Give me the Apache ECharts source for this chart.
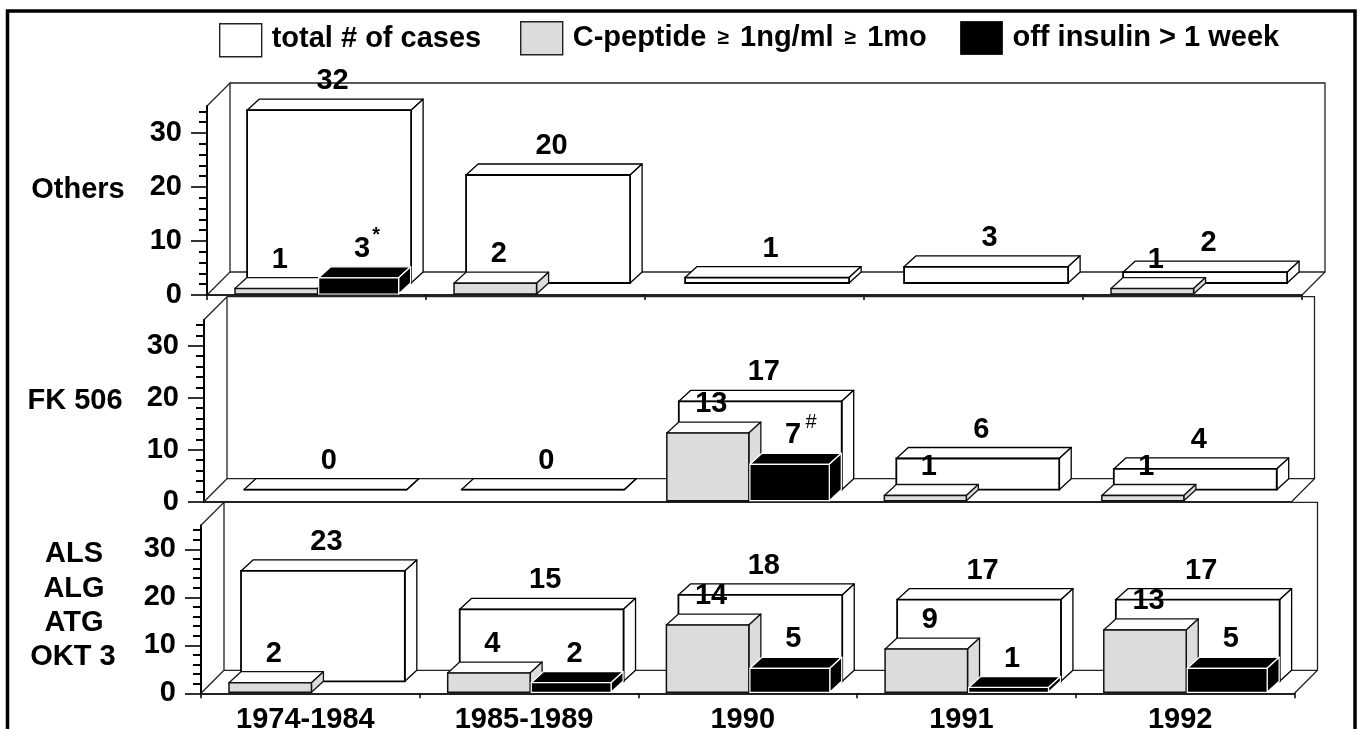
<!DOCTYPE html>
<html><head><meta charset="utf-8">
<script src="https://cdn.jsdelivr.net/npm/echarts@6/dist/echarts.min.js"></script>
<style>html,body{margin:0;padding:0;background:#fff}#c{width:1362px;height:729px}</style>
</head><body><div id="c"></div>
<script>
const categories = ['1974-1984','1985-1989','1990','1991','1992'];
const seriesNames = ['total # of cases','C-peptide ≥ 1ng/ml ≥ 1mo','off insulin > 1 week'];
const yMajor = [0,10,20,30];
const yMinor = [2,4,6,8,12,14,16,18,22,24,26,28,32,34];
const others_total = [32,20,1,3,2];
const others_cpep  = [1,2,null,null,1];
const others_off   = [3,null,null,null,null];
const fk_total = [0,0,17,6,4];
const fk_cpep  = [null,null,13,1,1];
const fk_off   = [null,null,7,null,null];
const als_total = [23,15,18,17,17];
const als_cpep  = [2,4,14,9,13];
const als_off   = [null,2,5,1,5];
const others_marks = {off:{0:'*'}};
const fk_marks = {off:{2:'#'}};
const rowLabels = [
  ['Others',78,190],['FK 506',75,401],
  ['ALS',74,554],['ALG',74,589],['ATG',74,623],['OKT 3',73,657]
];

const FONT = '"Liberation Sans", Arial, sans-serif';
const FS = 29;
const panels = [
  {left:207,width:1095,top:106,height:189,tick:true,vals:[others_total,others_cpep,others_off],marks:others_marks},
  {left:204,width:1087.5,top:319.7,height:182,tick:false,vals:[fk_total,fk_cpep,fk_off],marks:fk_marks},
  {left:201,width:1093.5,top:525.3,height:168,tick:true,vals:[als_total,als_cpep,als_off],marks:{}}
];
const WALL = 23, DX = 12, DY = 11;
const layouts = [
  {from:0.183,to:0.932,lift:12,fill:'#fff',top:'#fff',side:'#fff',stroke:'#000',front:1.8},
  {from:0.128,to:0.505,lift:1,fill:'#dcdcdc',top:'#fff',side:'#dcdcdc',stroke:'#111',front:1.5},
  {from:0.510,to:0.875,lift:1,fill:'#000',top:'#000',side:'#000',stroke:'#fff',front:1.2}
];

function wallItem(params){
  const c = params.coordSys, x0=c.x, x1=c.x+c.width, y0=c.y+c.height, t=c.y;
  const st = {fill:null,stroke:'#222',lineWidth:1.3};
  return {type:'group',silent:true,children:[
    {type:'polyline',shape:{points:[[x0,y0],[x0+WALL,y0-WALL],[x0+WALL,t-WALL],[x0,t]]},style:st},
    {type:'polyline',shape:{points:[[x0+WALL,t-WALL],[x1+WALL,t-WALL],[x1+WALL,y0-WALL],[x1,y0]]},style:st},
    {type:'line',shape:{x1:x0+WALL,y1:y0-WALL,x2:x1+WALL,y2:y0-WALL},style:st}
  ]};
}

function barRenderer(kind, marks){
  const L = layouts[kind];
  const key = kind===2?'off':'';
  return function(params, api){
    const v = api.value(1), i = api.value(0);
    if (v===null || v===undefined || isNaN(v)) return;
    const band = api.size([1,0])[0];
    const c0 = api.coord([i,0]), cv = api.coord([i,v]);
    const bl = c0[0]-band/2;
    const xa = bl+band*L.from, xb = bl+band*L.to;
    const yb = c0[1]-L.lift, yt = cv[1]-L.lift;
    const st = {stroke:L.stroke,lineWidth:1.3,lineJoin:'round'};
    const kids = [
      {type:'polygon',shape:{points:[[xa,yt],[xa+DX,yt-DY],[xb+DX,yt-DY],[xb,yt]]},style:{...st,fill:L.top}},
      {type:'polygon',shape:{points:[[xb,yb],[xb,yt],[xb+DX,yt-DY],[xb+DX,yb-DY]]},style:{...st,fill:L.side}},
      {type:'rect',shape:{x:xa,y:yt,width:xb-xa,height:yb-yt},style:{stroke:L.stroke,lineWidth:L.front,fill:L.fill}}
    ];
    const lx = (xa+xb)/2+3.5, ly = yt-DY-18;
    kids.push({type:'text',z2:50,style:{text:String(v),x:lx,y:ly,align:'center',verticalAlign:'middle',
      font:'bold '+FS+'px '+FONT,fill:'#000'}});
    const m = key && marks[key] && marks[key][i];
    if (m) kids.push({type:'text',z2:50,style:{text:m,x:lx+(m==='#'?18:14),y:ly-13,align:'center',verticalAlign:'middle',
      font:(m==='*'?'bold ':'')+'20px '+FONT,fill:'#000'}});
    return {type:'group',silent:true,children:kids};
  };
}

const grid=[],xAxis=[],yAxis=[],series=[];
panels.forEach((p,k)=>{
  grid.push({left:p.left,width:p.width,top:p.top,height:p.height,outerBoundsMode:'none'});
  xAxis.push({type:'category',gridIndex:k,data:categories,boundaryGap:true,
    axisLine:{show:true,lineStyle:{color:'#222',width:2}},
    axisTick:{show:p.tick,length:5,lineStyle:{color:'#000',width:1.5}},
    axisLabel:{show:k===2,interval:0,color:'#000',fontFamily:FONT,fontWeight:'bold',fontSize:FS,margin:12,padding:[0,10,0,0]}
  });
  yAxis.push({type:'value',gridIndex:k,min:0,max:35,interval:10,splitLine:{show:false},
    axisLine:{show:true,onZero:false,lineStyle:{color:'#000',width:2}},
    axisTick:{show:true,length:16,customValues:yMajor,lineStyle:{color:'#000',width:1.6}},
    axisLabel:{show:true,customValues:yMajor,margin:25,color:'#000',fontFamily:FONT,fontWeight:'bold',fontSize:FS}
  });
});
panels.forEach((p,k)=>{
  yAxis.push({type:'value',gridIndex:k,position:'left',min:0,max:35,interval:10,splitLine:{show:false},
    axisLine:{show:false,onZero:false},
    axisTick:{show:true,length:8,customValues:yMinor,lineStyle:{color:'#000',width:2}},
    axisLabel:{show:false}
  });
  series.push({type:'custom',name:'walls'+k,xAxisIndex:k,yAxisIndex:k,data:[[0,0]],z:1,silent:true,renderItem:wallItem,tooltip:{show:false}});
  p.vals.forEach((vals,m)=>{
    series.push({type:'custom',name:seriesNames[m],xAxisIndex:k,yAxisIndex:k,z:3+m,
      itemStyle:{color:layouts[m].fill},
      encode:{x:0,y:1},
      data:vals.map((v,i)=>[i,v]),
      renderItem:barRenderer(m,p.marks)});
  });
});

const legendBase = {orient:'horizontal',itemWidth:42,itemHeight:33,selectedMode:false,
  textStyle:{color:'#000',fontFamily:FONT,fontWeight:'bold',fontSize:FS,padding:[0,0,0,5],
    rich:{a:{color:'#000',fontFamily:FONT,fontWeight:'bold',fontSize:FS},
          b:{color:'#000',fontFamily:FONT,fontWeight:'bold',fontSize:21,padding:[0,3,0,3]}}}};
const legend = [
  {...legendBase,left:214,top:18,
    textStyle:{...legendBase.textStyle,padding:[0,0,3,5]},
    data:[{name:seriesNames[0],icon:'rect',itemStyle:{color:'#fff',borderColor:'#222',borderWidth:1.4}}]},
  {...legendBase,left:515,top:16,
    formatter:()=>'{a|C-peptide }{b|≥}{a| 1ng/ml }{b|≥}{a| 1mo}',
    data:[{name:seriesNames[1],icon:'rect',itemStyle:{color:'#dcdcdc',borderColor:'#222',borderWidth:1.4}}]},
  {...legendBase,left:955,top:16,data:[{name:seriesNames[2],icon:'rect',itemStyle:{color:'#000',borderColor:'#222',borderWidth:1}}]}
];

const graphic = [
  {type:'polyline',silent:true,z:100,shape:{points:[[7.5,735],[7.5,11],[1355,11],[1355,735]]},style:{fill:null,stroke:'#000',lineWidth:3.5}}
].concat(rowLabels.map(r=>({type:'text',silent:true,x:r[1],y:r[2],
  style:{text:r[0],align:'center',verticalAlign:'middle',font:'bold '+FS+'px '+FONT,fill:'#000'}})));

const chart = echarts.init(document.getElementById('c'),null,{renderer:'canvas'});
chart.setOption({animation:false,backgroundColor:'#fff',grid,xAxis,yAxis,series,legend,graphic});
</script></body></html>
